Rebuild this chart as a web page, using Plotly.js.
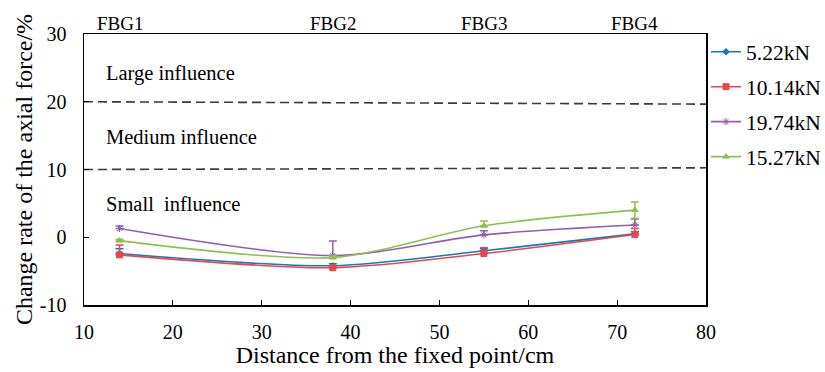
<!DOCTYPE html>
<html>
<head>
<meta charset="utf-8">
<script src="https://cdn.plot.ly/plotly-3.0.1.min.js"></script>
<style>html,body{margin:0;padding:0;background:#fff;}#chart{width:825px;height:372px;}</style>
</head>
<body>
<div id="chart"></div>
<script>
// Data
const distance = [14, 38, 55, 72];
const sensorLabels = ['FBG1', 'FBG2', 'FBG3', 'FBG4'];
const seriesNames = ['5.22kN', '10.14kN', '19.74kN', '15.27kN'];
const s522 = [-2.4, -4.2, -2.0, 0.5];
const s1014 = [-2.6, -4.5, -2.4, 0.4];
const s1974 = [1.3, -2.7, 0.35, 1.8];
const s1527 = [-0.5, -3.0, 1.7, 4.0];
const err522 = [0.7, 0.3, 0.3, 0.3];
const err1014 = [1.45, 0.3, 0.85, 0.9];
const err1974 = [0.35, 2.15, 0.6, 0.9];
const err1527 = [0.2, 0.3, 0.7, 1.2];
const err1527minus = [0, 0, 0, 1.2];
const thresholdX = [10, 80];
const largeLine = [20, 19.65];
const mediumLine = [10, 10.25];
const zoneLabels = ['Large influence', 'Medium influence', 'Small\u00a0 influence'];
const zoneY = [24.2, 14.8, 4.9];
const yTickVals = [-10, 0, 10, 20, 30];
const yTickText = ['-10', '0', '10', '20', '30'];

const colors = ['#1279C2', '#E5484B', '#8E5FAE', '#8CC152'];
const serif = 'Liberation Serif';

function series(name, y, err, errMinus, color, symbol, size) {
  return {
    x: distance, y: y, name: name, type: 'scatter', mode: 'lines+markers',
    legendgroup: name,
    line: {color: color, width: 1.6, shape: 'spline', smoothing: 0.8},
    marker: {color: color, symbol: symbol, size: size, line: {color: color, width: 1}},
    error_y: {type: 'data', array: err, arrayminus: errMinus, symmetric: false,
              color: color, thickness: 1.5, width: 4, visible: true},
    cliponaxis: false
  };
}
const zeros = [0, 0, 0, 0];
const traces = [
  {x: thresholdX, y: largeLine, mode: 'lines', showlegend: false, hoverinfo: 'skip',
   line: {color: '#3a3a3a', width: 1.6, dash: '9px,5px'}},
  {x: thresholdX, y: mediumLine, mode: 'lines', showlegend: false, hoverinfo: 'skip',
   line: {color: '#3a3a3a', width: 1.6, dash: '9px,5px'}},
  series(seriesNames[0], s522, err522, zeros, colors[0], 'diamond', 5),
  series(seriesNames[1], s1014, err1014, zeros, colors[1], 'square', 6),
  series(seriesNames[2], s1974, err1974, zeros, colors[2], 'asterisk-open', 6),
  series(seriesNames[3], s1527, err1527, err1527minus, colors[3], 'triangle-up', 6)
];

const annotations = [];
sensorLabels.forEach((t, i) => annotations.push({
  x: distance[i], xref: 'x', y: 1.04, yref: 'paper', text: t, showarrow: false,
  xanchor: 'center', yanchor: 'middle', font: {family: serif, size: 19, color: '#000'}
}));
zoneLabels.forEach((t, i) => annotations.push({
  x: 12.3, xref: 'x', y: zoneY[i], yref: 'y', text: t, showarrow: false,
  xanchor: 'left', yanchor: 'middle', font: {family: serif, size: 20.5, color: '#000'}
}));

const layout = {
  width: 825, height: 372,
  margin: {l: 84, r: 119, t: 34, b: 67, pad: 0, autoexpand: false},
  paper_bgcolor: '#fff', plot_bgcolor: '#fff',
  font: {family: serif, size: 20, color: '#000'},
  showlegend: true,
  legend: {x: 1.0, xanchor: 'left', y: 1.01, yanchor: 'top',
           font: {family: serif, size: 21.5, color: '#000'},
           tracegroupgap: 4, itemwidth: 30, bgcolor: 'rgba(0,0,0,0)'},
  xaxis: {
    range: [10, 80], dtick: 10, tick0: 10, showgrid: false, zeroline: false,
    showline: true, linecolor: '#000', linewidth: 1.5, mirror: true,
    ticks: 'inside', ticklen: 5, tickcolor: '#000', tickwidth: 1.2,
    tickfont: {family: serif, size: 20}, ticklabelstandoff: 8,
    title: {text: 'Distance from the fixed point/cm', font: {family: serif, size: 24}, standoff: 4}
  },
  yaxis: {
    range: [-10, 30], tickvals: yTickVals, ticktext: yTickText, showgrid: false, zeroline: false,
    showline: true, linecolor: '#000', linewidth: 1.5, mirror: true,
    ticks: 'inside', ticklen: 5, tickcolor: '#000', tickwidth: 1.2,
    tickfont: {family: serif, size: 20}, ticklabelstandoff: 12,
    title: {text: 'Change rate of the axial force/%', font: {family: serif, size: 24}, standoff: 0}
  },
  annotations: annotations
};

Plotly.newPlot('chart', traces, layout, {displayModeBar: false, staticPlot: true});
</script>
</body>
</html>
